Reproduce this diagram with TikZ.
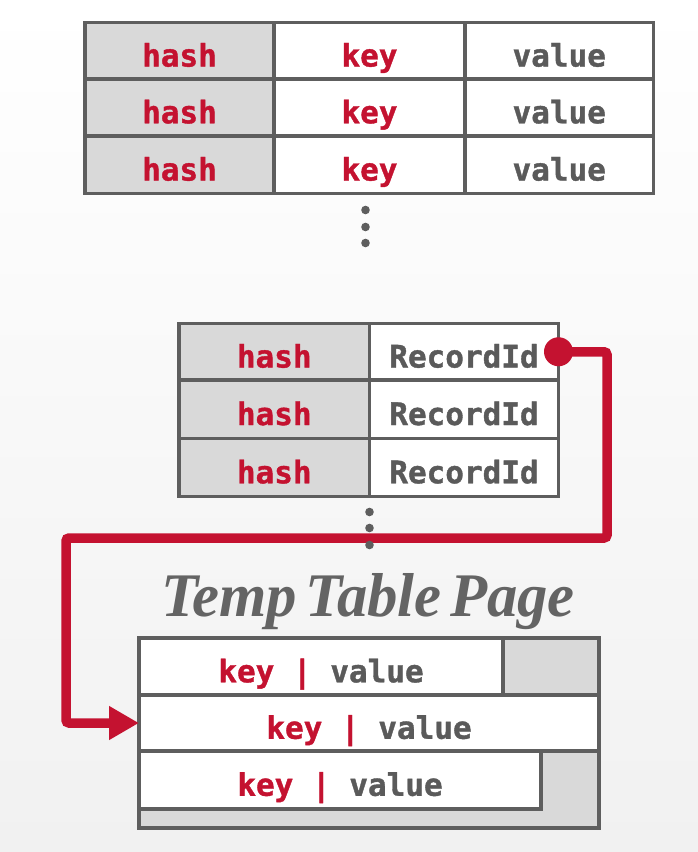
\documentclass[tikz,border=0pt]{standalone}
\usepackage{fontspec}
\newfontfamily\monofont[FakeBold=1.2]{DejaVu Sans Mono}
\newfontfamily\titlefont[FakeStretch=0.98,WordSpace=0.55]{Liberation Serif}
\usetikzlibrary{arrows.meta}
\definecolor{cmured}{HTML}{C41230}
\definecolor{txtgray}{HTML}{5A5A5A}
\definecolor{linegray}{HTML}{5E5E5E}
\definecolor{cellgray}{HTML}{D9D9D9}
\definecolor{titlegray}{HTML}{646464}
\definecolor{bggray}{HTML}{F1F1F1}
\begin{document}
\begin{tikzpicture}[x=1pt,y=-1pt,
  cell/.style={draw=linegray, line width=3.6pt, inner sep=0pt, outer sep=0pt,
    font=\monofont\bfseries\fontsize{31}{31}\selectfont,
    text height=31.5pt, text depth=0pt, anchor=center},
  hashcell/.style={cell, fill=cellgray, text=cmured},
  keycell/.style={cell, fill=white, text=cmured},
  valcell/.style={cell, fill=white, text=txtgray},
  pagebox/.style={draw=linegray, line width=3.6pt, inner sep=0pt, outer sep=0pt, fill=cellgray},
  dot/.style={fill=linegray},
  conn/.style={draw=cmured, line width=9.5pt, rounded corners=3pt, -{Triangle[length=30pt,width=32pt]}},
]
\shade[top color=white, bottom color=bggray] (0,0) rectangle (698,852);
\useasboundingbox (0,0) rectangle (698,852);

% top table
\foreach \r/\y/\h in {1/50.75/56.5, 2/107.5/57, 3/164.75/57.5}{
  \node[hashcell, minimum width=189pt, minimum height=\h pt] (t\r a) at (179.5,\y) {hash};
  \node[keycell, minimum width=191pt, minimum height=\h pt] (t\r b) at (369.5,\y) {key};
  \node[valcell, minimum width=188.5pt, minimum height=\h pt] (t\r c) at (559.25,\y) {value};
}
\foreach \y [count=\i] in {210,227,243}{
  \fill[dot] (365.5,\y) circle (4.3pt);
}

% middle table
\foreach \r/\y/\h in {1/351.75/56.5, 2/409.25/58.5, 3/467.5/58}{
  \node[hashcell, minimum width=190.5pt, minimum height=\h pt] (m\r a) at (274.25,\y) {hash};
  \node[valcell, minimum width=189pt, minimum height=\h pt] (m\r b) at (464,\y) {RecordId};
}

% temp table page
\node[anchor=base, text=titlegray, inner sep=0pt,
  font=\titlefont\bfseries\itshape\fontsize{62}{62}\selectfont] (title) at (368,616) {Temp Table Page};
\node[pagebox, minimum width=460pt, minimum height=190pt] (page) at (369,733) {};
\node[valcell, minimum width=364pt, minimum height=57pt] (p1) at (321,666.5)
  {\textcolor{cmured}{key | }value};
\node[valcell, minimum width=460pt, minimum height=56pt] (p2) at (369,723)
  {\textcolor{cmured}{key | }value};
\node[valcell, minimum width=402pt, minimum height=58pt] (p3) at (340,780)
  {\textcolor{cmured}{key | }value};

% connector
\coordinate (c1) at (607,538);
\coordinate (c2) at (66,723);
\draw[conn] (m1b.east) -| (c1) -| (c2) -- (p2.west);
\fill[cmured] (m1b.east) circle (14.5pt);

\foreach \y in {512,528,545}{
  \fill[dot] (369.5,\y) circle (4.3pt);
}
\end{tikzpicture}
\end{document}
